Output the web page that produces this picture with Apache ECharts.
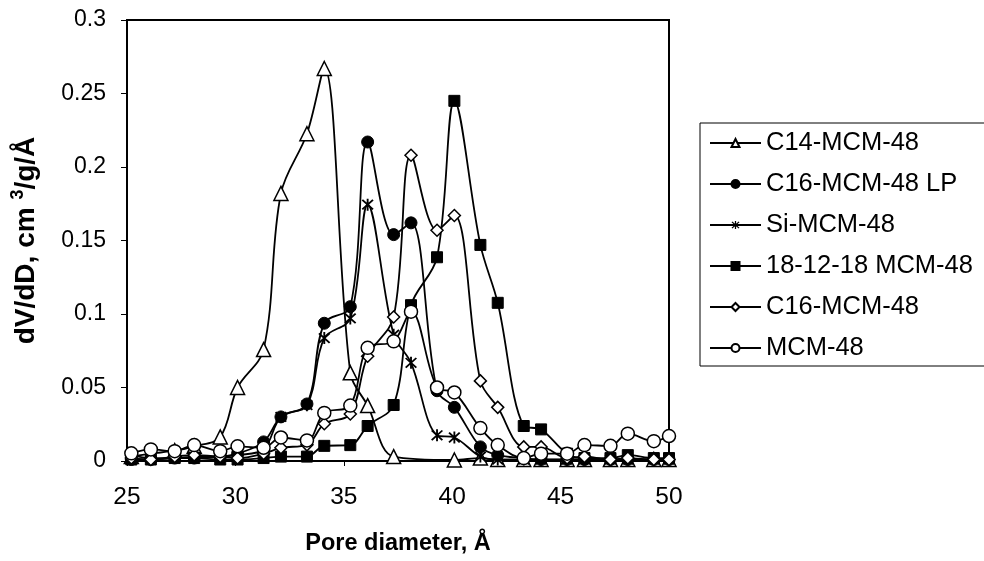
<!DOCTYPE html>
<html>
<head>
<meta charset="utf-8">
<script src="https://cdn.jsdelivr.net/npm/echarts@6/dist/echarts.min.js"></script>
<style>html,body{margin:0;padding:0;background:#fff}#c{width:984px;height:561px}</style>
</head>
<body>
<div id="c"></div>
<script>
var poreDiameter = [25.2, 26.1, 27.2, 28.1, 29.3, 30.1, 31.3, 32.1, 33.3, 34.1, 35.3, 36.1, 37.3, 38.1, 39.3, 40.1, 41.3, 42.1, 43.3, 44.1, 45.3, 46.1, 47.3, 48.1, 49.3, 50.0];
var c14 = [0.003, 0.005, 0.007, 0.010, 0.0164, 0.050, 0.0758, 0.182, 0.2226, 0.267, 0.060, 0.0377, 0.003, null, null, 0.0007, 0.002, 0.001, 0.001, 0.001, 0.001, 0.001, 0.001, 0.001, 0.001, 0.001];
var c16lp = [0.001, 0.001, 0.002, 0.002, 0.003, 0.005, 0.013, 0.030, 0.0388, 0.0937, 0.105, 0.217, 0.154, 0.162, 0.0478, 0.0365, 0.0096, 0.004, 0.002, 0.001, 0.001, 0.001, 0.001, 0.001, 0.001, 0.001];
var siMcm = [0.004, 0.002, 0.002, 0.003, 0.003, 0.004, 0.008, 0.030, 0.038, 0.0836, 0.097, 0.1744, 0.0859, 0.0668, 0.0175, 0.016, 0.003, 0.001, 0.001, 0.001, 0.001, 0.001, 0.001, 0.001, 0.001, 0.001];
var gemini = [0.001, 0.001, 0.002, 0.002, 0.001, 0.001, 0.002, 0.003, 0.003, 0.0103, 0.0108, 0.0238, 0.0381, 0.106, 0.1386, 0.245, 0.147, 0.1076, 0.0238, 0.0215, 0.005, 0.002, 0.002, 0.004, 0.002, 0.002];
var c16 = [0.002, 0.001, 0.003, 0.004, 0.003, 0.002, 0.005, 0.009, 0.011, 0.0253, 0.032, 0.0713, 0.098, 0.208, 0.157, 0.167, 0.0545, 0.0365, 0.0096, 0.0096, 0.002, 0.003, 0.001, 0.002, 0.001, 0.001];
var mcm48 = [0.0052, 0.0079, 0.0067, 0.0108, 0.0067, 0.010, 0.009, 0.016, 0.014, 0.0327, 0.0377, 0.077, 0.0814, 0.1016, 0.050, 0.0466, 0.0224, 0.0108, 0.002, 0.005, 0.005, 0.0108, 0.0103, 0.0186, 0.0135, 0.017];
var seriesNames = ['C14-MCM-48', 'C16-MCM-48 LP', 'Si-MCM-48', '18-12-18 MCM-48', 'C16-MCM-48', 'MCM-48'];
var yTicks = [0, 0.05, 0.1, 0.15, 0.2, 0.25, 0.3];

function pairs(ys) {
  return poreDiameter.map(function (x, i) { return [x, ys[i]]; });
}
var asterisk = 'path://M8.6 0L11.4 0L11.4 20L8.6 20Z M3 1L19 17L17 19L1 3Z M17 1L19 3L3 19L1 17Z';
var styles = [
  {symbol: 'triangle', size: 14, fill: '#fff'},
  {symbol: 'circle', size: 12, fill: '#000'},
  {symbol: asterisk, size: 12, fill: '#000'},
  {symbol: 'rect', size: 11, fill: '#000'},
  {symbol: 'diamond', size: 12, fill: '#fff'},
  {symbol: 'circle', size: 13, fill: '#fff'}
];
var allData = [c14, c16lp, siMcm, gemini, c16, mcm48];

var series = allData.map(function (ys, i) {
  var st = styles[i];
  return {
    name: seriesNames[i],
    type: 'line',
    data: pairs(ys),
    smooth: 0.35,
    connectNulls: true,
    symbol: st.symbol,
    symbolSize: st.size,
    showAllSymbol: true,
    lineStyle: {color: '#000', width: 1.8},
    itemStyle: {color: st.fill, borderColor: '#000', borderWidth: st.fill === '#fff' ? 1.5 : (i === 2 ? 0 : 1)},
    emphasis: {disabled: true},
    animation: false,
    z: 2 + i
  };
});

var chart = echarts.init(document.getElementById('c'), null, {renderer: 'canvas'});
chart.setOption({
  backgroundColor: '#fff',
  animation: false,
  grid: {left: 127, right: 315, top: 20, bottom: 95, show: true, borderColor: '#000', borderWidth: 2, backgroundColor: 'transparent'},
  xAxis: {
    type: 'value', min: 25, max: 50, interval: 5,
    name: 'Pore diameter, Å', nameLocation: 'middle', nameGap: 71,
    nameTextStyle: {fontFamily: 'Liberation Sans', fontWeight: 'bold', fontSize: 23.5, color: '#000'},
    axisLine: {lineStyle: {color: '#000', width: 1.5}},
    axisTick: {show: true, inside: false, length: 5, lineStyle: {color: '#000', width: 1}},
    axisLabel: {fontFamily: 'Liberation Sans', fontSize: 24.5, color: '#000', margin: 24},
    splitLine: {show: false}
  },
  yAxis: {
    type: 'value', min: 0, max: 0.3, interval: 0.05,
    name: 'dV/dD, cm {sup|3}/g/Å', nameLocation: 'middle', nameGap: 84,
    nameTextStyle: {fontFamily: 'Liberation Sans', fontWeight: 'bold', fontSize: 28, color: '#000',
      rich: {sup: {fontFamily: 'Liberation Sans', fontWeight: 'bold', fontSize: 18, color: '#000', padding: [0, 0, 16, 0]}}},
    axisLine: {show: true, lineStyle: {color: '#000', width: 1.5}},
    axisTick: {show: true, inside: false, length: 6, lineStyle: {color: '#000', width: 1}},
    axisLabel: {fontFamily: 'Liberation Sans', fontSize: 23, color: '#000', margin: 21,
      formatter: function (v) { return yTicks.indexOf(Math.round(v * 100) / 100) >= 0 ? String(Math.round(v * 100) / 100) : ''; }},
    splitLine: {show: false}
  },
  legend: {
    orient: 'vertical', left: 700, top: 123,
    width: 283,
    data: seriesNames,
    itemWidth: 51, itemHeight: 10, itemGap: 13,
    padding: [6, 40, 4, 9],
    borderColor: '#000', borderWidth: 1,
    backgroundColor: '#fff',
    selectedMode: false,
    textStyle: {fontFamily: 'Liberation Sans', fontSize: 25.5, color: '#000', lineHeight: 28}
  },
  series: series
});
</script>
</body>
</html>
